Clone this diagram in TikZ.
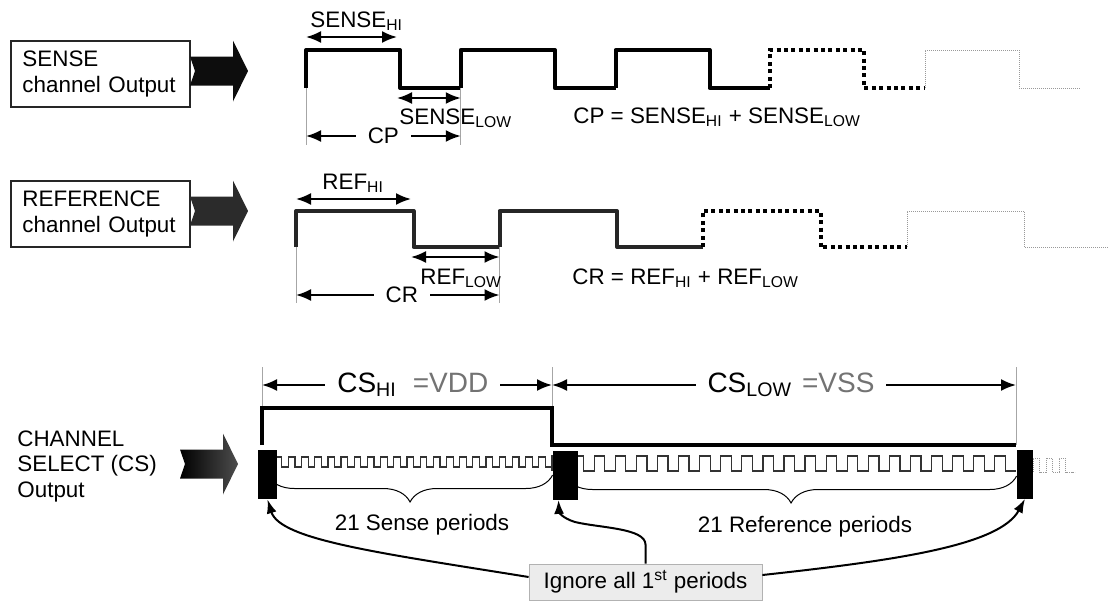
\documentclass[tikz,border=0pt]{standalone}
\usepackage{fontspec}
\setmainfont{Liberation Sans}
\usetikzlibrary{arrows.meta,positioning,calc,decorations.pathreplacing}

\begin{document}
\begin{tikzpicture}[
    x=0.5pt, y=-0.5pt,
    font=\fontsize{11.2}{12.75}\selectfont,
    chanbox/.style={draw=black!85, line width=1pt, align=left, text width=78pt, inner xsep=5.75pt, minimum height=33pt},
    lbl/.style={inner sep=0pt, anchor=base west},
    sensewave/.style={line width=2pt, line join=round},
    refwave/.style={line width=2pt, line join=round, draw=black!85},
    thickdots/.style={line width=2pt, dash pattern=on 2pt off 1.7pt},
    thindots/.style={line width=0.5pt, draw=gray!80, dash pattern=on 0.6pt off 0.4pt},
    extline/.style={draw=gray!70, line width=0.5pt},
    dimline/.style={{Latex[length=7.5pt,width=6pt]}-{Latex[length=7.5pt,width=6pt]}, line width=1pt},
    gaplabel/.style={fill=white, inner xsep=6pt, inner ysep=1pt},
    cslbl/.style={gaplabel, font=\fontsize{14}{16}\selectfont},
    cswave/.style={line width=2pt},
    fastwave/.style={draw=black!80, line width=0.6pt},
    skipbox/.style={fill=black, inner sep=0pt, minimum height=24.5pt, minimum width=#1},
    periodbrace/.style={decorate, decoration={brace, mirror, amplitude=13.5pt}, line width=0.5pt},
    callout/.style={-{Latex[length=7pt,width=5pt]}, line width=1pt},
    notebox/.style={draw=gray!60, fill=gray!15, minimum width=116.5pt, minimum height=18pt, inner sep=0pt}
  ]
    \useasboundingbox (0,0) rectangle (1109,601);

    % channel boxes and block arrows
    \node[chanbox] (sensebox) at (100.5,74) {SENSE\\channel Output};
    \node[chanbox] (refbox) at (100.5,214) {REFERENCE\\channel Output};
    \node[align=left, inner sep=0pt, anchor=west] (cslabel) at (17,466) {CHANNEL\\SELECT (CS)\\Output};
    \foreach \xa/\ya/\lc/\rc in {190/71/black!95/black!95, 190/211/black!83/black!83, 180/464/black/black!70} {
      \shade[left color=\lc, right color=\rc] (\xa,\ya-14.5) -- (\xa+43,\ya-14.5) -- (\xa+43,\ya-30.5) -- (\xa+58,\ya)
        -- (\xa+43,\ya+30.5) -- (\xa+43,\ya+14.5) -- (\xa,\ya+14.5) -- (\xa+5,\ya) -- cycle;
    }

    % sense channel
    \foreach \x/\wstyle in {306/sensewave, 460.75/sensewave, 615.5/sensewave, 770.25/thickdots, 925/thindots} {
      \draw[\wstyle] (\x,88) |- (\x+94,50) |- (\x+154.75,88);
    }
    \coordinate (s0) at (306,88);
    \coordinate (s1) at (397,88);
    \coordinate (s2) at (460.75,88);
    \draw[extline] (s0) -- (s0 |- 0,145);
    \draw[extline] (s2) -- (s2 |- 0,145);
    \draw[dimline] (s0 |- 0,37) -- (s1 |- 0,37);
    \draw[dimline] (s1 |- 0,98) -- (s2 |- 0,98);
    \draw[dimline] (s0 |- 0,136) -- node[gaplabel] (cp) {CP} (s2 |- 0,136);
    \node[lbl] (sensehi) at (310,27) {SENSE\textsubscript{HI}};
    \node[lbl] (senselow) at (399,124) {SENSE\textsubscript{LOW}};
    \node[lbl] (cpeq) at (573,123) {CP = SENSE\textsubscript{HI} + SENSE\textsubscript{LOW}};

    % reference channel
    \foreach \x/\wstyle in {296/refwave, 499.5/refwave, 703/thickdots, 907/thindots} {
      \draw[\wstyle] (\x,247) |- (\x+117.5,211) |- (\x+203.5,247);
    }
    \coordinate (r0) at (296,247);
    \coordinate (r1) at (411,247);
    \coordinate (r2) at (499.5,247);
    \draw[extline] (r0) -- (r0 |- 0,303);
    \draw[extline] (r2) -- (r2 |- 0,303);
    \draw[dimline] (r0 |- 0,199) -- (r1 |- 0,199);
    \draw[dimline] (r1 |- 0,257) -- (r2 |- 0,257);
    \draw[dimline] (r0 |- 0,295) -- node[gaplabel, pos=0.52] (cr) {CR} (r2 |- 0,295);
    \node[lbl] (refhi) at (322,189) {REF\textsubscript{HI}};
    \node[lbl] (reflow) at (420,284) {REF\textsubscript{LOW}};
    \node[lbl] (creq) at (572,284) {CR = REF\textsubscript{HI} + REF\textsubscript{LOW}};

    % channel select
    \coordinate (c0) at (262,445);
    \coordinate (c1) at (552,445);
    \coordinate (c2) at (1016,445);
    \draw[extline] (c0 |- 0,367) -- (c0);
    \draw[extline] (c1 |- 0,367) -- (c1);
    \draw[extline] (c2 |- 0,367) -- (c2);
    \draw[cswave] (c0) |- (552,408) -- (c1) -- (c2);
    \draw[dimline] (c0 |- 0,385) -- node[cslbl, pos=0.52] (cshi) {CS\textsubscript{HI}\hspace{8pt}\textcolor{black!55}{=VDD}} (c1 |- 0,385);
    \draw[dimline] (c1 |- 0,385) -- node[cslbl, pos=0.515] (cslow) {CS\textsubscript{LOW}\hspace{5pt}\textcolor{black!55}{=VSS}} (c2 |- 0,385);

    % fast outputs
    \draw[fastwave] (c0 |- 0,467) \foreach \k in {1,...,22} { -- ++(0,-10) -- ++(6.59,0) -- ++(0,10) -- ++(6.59,0) };
    \draw[fastwave] (c1 |- 0,471) \foreach \k in {1,...,22} { -- ++(0,-15) -- ++(10.545,0) -- ++(0,15) -- ++(10.545,0) };
    \draw[thindots] (1033,472) \foreach \k in {1,2,3} { -- ++(0,-14) -- ++(6.5,0) -- ++(0,14) -- ++(6.5,0) } -- ++(3,0);

    \node[skipbox=9.5pt] (m1) at (267.5,474.5) {};
    \node[skipbox=12.5pt] (m2) at (565.5,475) {};
    \node[skipbox=8pt] (m3) at (1025,474) {};

    \draw[periodbrace] (m1.center |- 0,475) -- (m2.west |- 0,475);
    \draw[periodbrace] (m2.center |- 0,476) -- (m3.west |- 0,476);
    \node (sensecount) at (422,525) {21 Sense periods};
    \node (refcount) at (805,527) {21 Reference periods};

    % note and callouts
    \node[notebox] (ignore) at (645.5,582) {Ignore all 1\textsuperscript{st} periods};
    \draw[callout] ([yshift=2.5pt]ignore.west) .. controls (380,553) and (280,540) .. (m1.south);
    \draw[callout] (ignore.north) -- ++(0,-19) .. controls (645.5,528) and (600,528) .. (575,522)
      .. controls (562,518) and (559,512) .. ([xshift=-3.5pt]m2.south);
    \draw[callout] ([yshift=3.5pt]ignore.east) .. controls (900,560) and (1000,545) .. (m3.south);
\end{tikzpicture}
\end{document}
